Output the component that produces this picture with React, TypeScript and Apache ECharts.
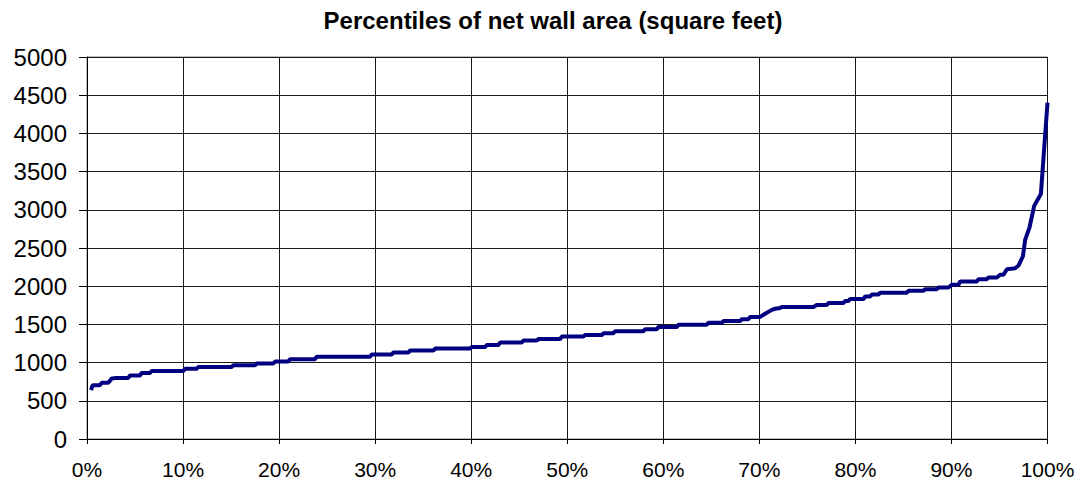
import React, { useEffect, useRef } from "react";
import * as echarts from "echarts";

const titleText = "Percentiles of net wall area (square feet)";

// percentile (%) of each corner of the stepped curve
const percentiles = [
  0.42, 0.59, 1.35, 1.53, 2.22, 2.57, 3.09, 4.3, 4.48, 5.52,
  5.69, 6.56, 6.73, 10.03, 10.2, 11.4, 11.6, 15.07, 15.24, 17.5,
  17.67, 19.4, 19.58, 20.96, 21.14, 23.74, 23.9, 29.47, 29.65, 31.73,
  31.9, 33.46, 33.63, 36.06, 36.24, 39.88, 40.06, 41.45, 41.62, 42.83,
  43.01, 45.27, 45.44, 46.83, 47.0, 49.26, 49.43, 51.68, 51.86, 53.6,
  53.77, 54.8, 54.98, 57.93, 58.1, 59.32, 59.49, 61.41, 61.58, 64.53,
  64.7, 66.09, 66.26, 68.0, 68.18, 68.87, 69.04, 70.08, 70.6, 71.3,
  71.64, 72.16, 72.34, 75.63, 75.98, 77.03, 77.2, 78.76, 78.93, 79.28,
  79.45, 80.84, 81.02, 81.54, 81.71, 82.4, 82.58, 85.36, 85.53, 87.09,
  87.26, 88.48, 88.65, 89.69, 90.04, 90.73, 90.91, 92.65, 92.82, 93.69,
  93.86, 94.73, 95.07, 95.42, 95.77, 96.64, 96.98, 97.44, 97.68, 98.13,
  98.62, 99.31, 100,
];

// net wall area (square feet)
const wallArea = [
  640, 705, 705, 735, 735, 792, 800, 800, 831, 831,
  865, 865, 890, 890, 918, 918, 944, 944, 966, 966,
  988, 988, 1014, 1014, 1044, 1044, 1077, 1077, 1105, 1105,
  1131, 1131, 1157, 1157, 1183, 1183, 1205, 1205, 1231, 1231,
  1262, 1262, 1288, 1288, 1309, 1309, 1340, 1340, 1360, 1360,
  1385, 1385, 1410, 1410, 1437, 1437, 1466, 1466, 1495, 1495,
  1520, 1520, 1543, 1543, 1568, 1568, 1598, 1598, 1640, 1690,
  1705, 1715, 1727, 1727, 1753, 1753, 1779, 1779, 1805, 1805,
  1831, 1831, 1866, 1866, 1892, 1892, 1914, 1914, 1940, 1940,
  1961, 1961, 1983, 1983, 2018, 2018, 2062, 2062, 2092, 2092,
  2114, 2114, 2149, 2149, 2223, 2235, 2270, 2392, 2610, 2771,
  3054, 3206, 4402,
];

const FONT = 'Arial, "Liberation Sans", sans-serif';

export default function App() {
  const ref = useRef<HTMLDivElement>(null);

  useEffect(() => {
    if (!ref.current) return;
    const chart = echarts.init(ref.current, undefined, { renderer: "svg" });
    const data = percentiles.map((p, i) => [p, wallArea[i]]);
    chart.setOption({
      animation: false,
      backgroundColor: "#ffffff",
      graphic: [
        {
          type: "text",
          x: 553,
          y: 20,
          style: {
            text: titleText,
            fontFamily: FONT,
            fontSize: 24,
            fontWeight: "bold",
            fill: "#000",
            textAlign: "center",
            textVerticalAlign: "middle",
          },
        },
      ],
      grid: {
        left: 87,
        right: 30.5,
        top: 57,
        bottom: 44,
        show: true,
        borderColor: "#808080",
        borderWidth: 1,
      },
      xAxis: {
        type: "value",
        min: 0,
        max: 100,
        interval: 10,
        axisLine: { show: true, onZero: false, lineStyle: { color: "#000", width: 1 } },
        axisTick: { show: true, length: 5, lineStyle: { color: "#000" } },
        axisLabel: {
          margin: 20,
          fontSize: 21,
          fontFamily: FONT,
          color: "#000",
          formatter: (v: number) => `${v}%`,
        },
        splitLine: { show: true, lineStyle: { color: "#1a1a1a", width: 1 } },
      },
      yAxis: {
        type: "value",
        min: 0,
        max: 5000,
        interval: 500,
        axisLine: { show: true, lineStyle: { color: "#000", width: 1 } },
        axisTick: { show: true, length: 8, lineStyle: { color: "#000" } },
        axisLabel: {
          margin: 20,
          fontSize: 24,
          fontFamily: FONT,
          color: "#000",
          formatter: (v: number) => String(v),
        },
        splitLine: { show: true, lineStyle: { color: "#1a1a1a", width: 1 } },
      },
      series: [
        {
          type: "line",
          data,
          showSymbol: false,
          smooth: false,
          lineStyle: { color: "#000080", width: 4 },
          itemStyle: { color: "#000080" },
        },
      ],
    });
    return () => chart.dispose();
  }, []);

  return (
    <div
      ref={ref}
      style={{ position: "fixed", left: 0, top: 0, width: 1078, height: 483 }}
    />
  );
}
